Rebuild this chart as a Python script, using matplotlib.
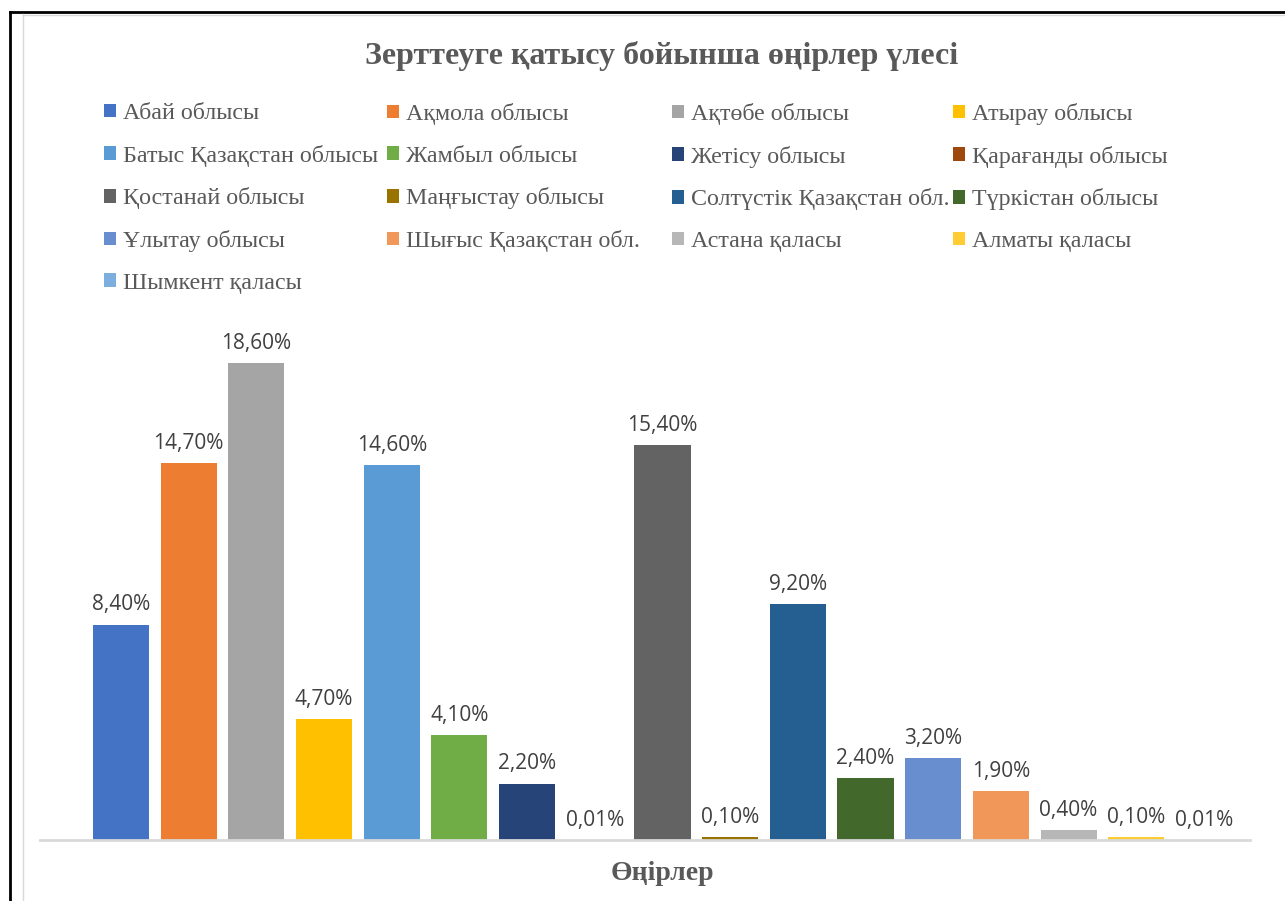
import matplotlib
matplotlib.use("Agg")
from matplotlib import pyplot as plt
from matplotlib.lines import Line2D

# Regions and their shares (%)
regions = ["Абай облысы", "Ақмола облысы", "Ақтөбе облысы", "Атырау облысы",
           "Батыс Қазақстан облысы", "Жамбыл облысы", "Жетісу облысы", "Қарағанды облысы",
           "Қостанай облысы", "Маңғыстау облысы", "Солтүстік Қазақстан обл.", "Түркістан облысы",
           "Ұлытау облысы", "Шығыс Қазақстан обл.", "Астана қаласы", "Алматы қаласы",
           "Шымкент қаласы"]
shares = [8.4, 14.7, 18.6, 4.7, 14.6, 4.1, 2.2, 0.01, 15.4, 0.1, 9.2, 2.4, 3.2, 1.9, 0.4, 0.1, 0.01]
colors = ["#4472C4", "#ED7D31", "#A5A5A5", "#FFC000", "#5B9BD5", "#70AD47", "#264478", "#9E480E",
          "#636363", "#997300", "#255E91", "#43682B", "#698ED0", "#F1975A", "#B7B7B7", "#FFCD33",
          "#7CAFDD"]

title = "Зерттеуге қатысу бойынша өңірлер үлесі"
xlabel = "Өңірлер"

serif = "Liberation Serif"
grey = "#595959"

fig = plt.figure(figsize=(12.85, 9.01), dpi=100)
W, H = 1285, 901
ax = fig.add_axes([40 / W, 61 / H, 1210 / W, (840 - 320) / H])

xs = list(range(len(shares)))
bars = []
for x, v, c, name in zip(xs, shares, colors, regions):
    b = ax.bar(x, v, width=0.83, color=c, label=name)
    bars.append(b)
    lbl = ("%.2f%%" % v).replace(".", ",")
    ax.text(x, v + 0.55, lbl, ha="center", va="baseline", fontsize=15,
            family="Open Sans", color="#404040")

ax.set_xlim(-1.196, 16.68)
ax.set_ylim(0, 20.27)
for s in ["top", "right", "left"]:
    ax.spines[s].set_visible(False)
ax.spines["bottom"].set_color("#D9D9D9")
ax.spines["bottom"].set_linewidth(2)
ax.set_xticks([])
ax.set_yticks([])

fig.text(662 / W, 1 - 64 / H, title, ha="center", va="baseline", fontsize=23,
         family=serif, weight="bold", color=grey)
fig.text(662 / W, 1 - 873 / H, xlabel, ha="center", va="center", fontsize=20,
         family=serif, weight="bold", color=grey)

# legend: 4 equal-width columns, filled row by row
ncol = 4
col_x = [104, 387, 672, 953]
for j in range(ncol):
    idx = list(range(j, len(regions), ncol))
    leg = fig.legend(handles=[bars[i][0] for i in idx], labels=[regions[i] for i in idx],
                     loc="upper left", bbox_to_anchor=(col_x[j] / W, 1 - 103 / H),
                     frameon=False, prop={"family": serif, "size": 17.3},
                     borderpad=0, borderaxespad=0,
                     handlelength=0.5, handleheight=0.5, handletextpad=0.28,
                     labelspacing=0.86, labelcolor=grey)

# frame lines around the chart
fig.add_artist(Line2D([10 / W, 10 / W], [0, 1 - 12 / H], color="black", lw=2))
fig.add_artist(Line2D([10 / W, 1], [1 - 12 / H, 1 - 12 / H], color="black", lw=2))
fig.add_artist(Line2D([23 / W, 23 / W], [0, 1 - 14 / H], color="#D9D9D9", lw=1))
fig.add_artist(Line2D([23 / W, 1], [1 - 14.5 / H, 1 - 14.5 / H], color="#D9D9D9", lw=1))

fig.savefig("out.png", dpi=100)
